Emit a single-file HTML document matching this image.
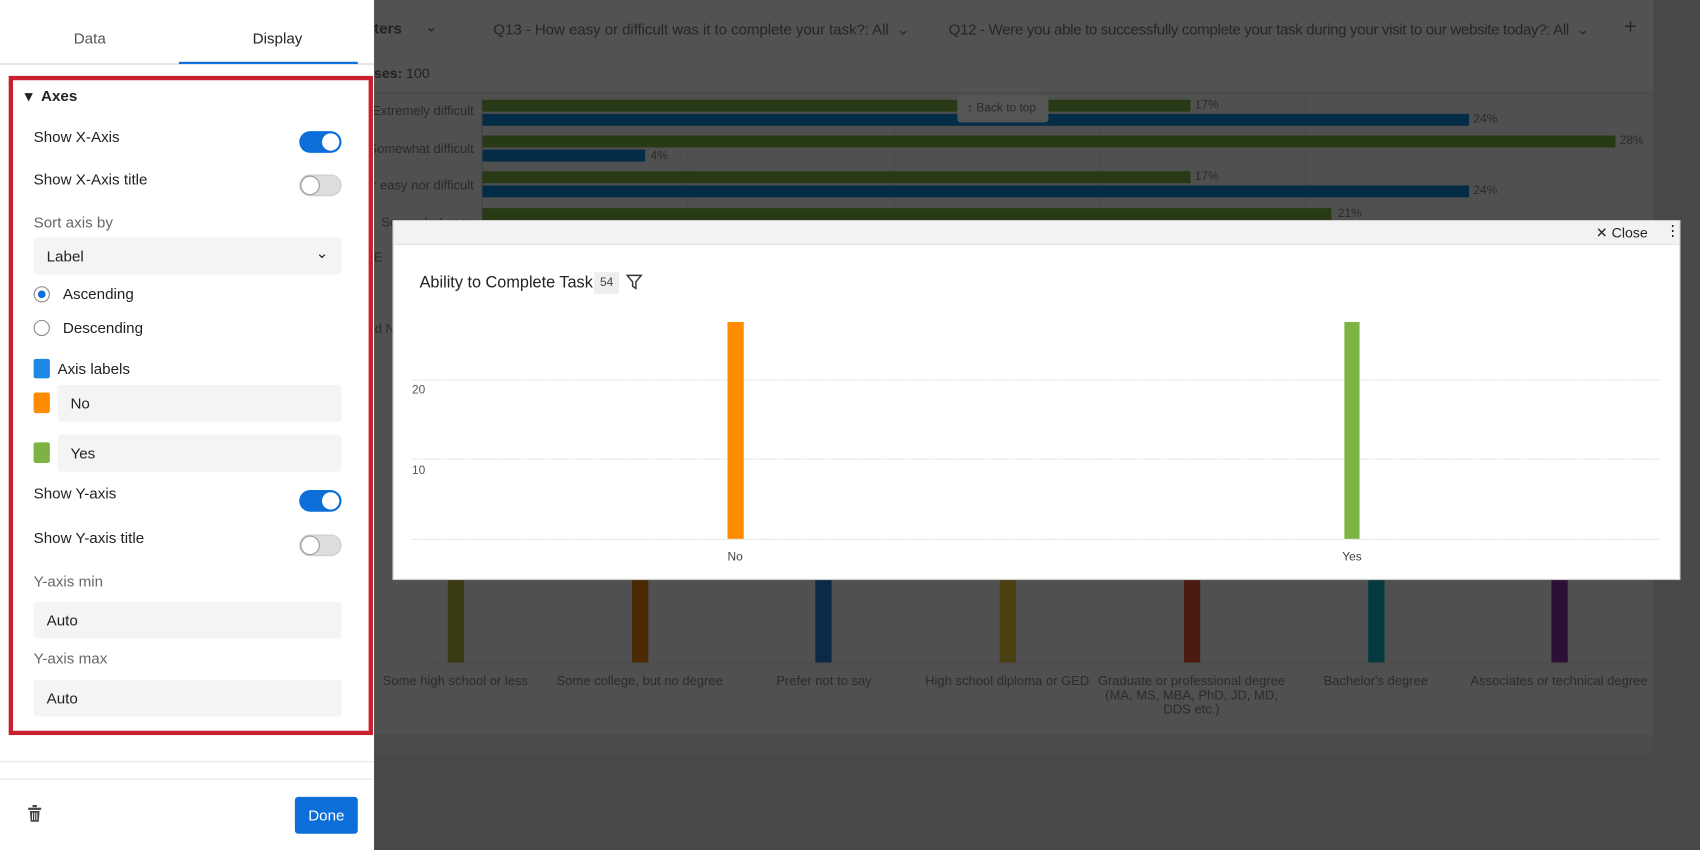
<!DOCTYPE html>
<html><head><meta charset="utf-8"><style>
*{box-sizing:border-box;margin:0;padding:0}
html,body{width:1700px;height:850px;overflow:hidden;background:#484848;font-family:"Liberation Sans",sans-serif}
#w{position:absolute;left:0;top:0;width:1568px;height:784px;transform:scale(1.08418);transform-origin:0 0;background:#484848}
.a{position:absolute}
.t{position:absolute;white-space:nowrap}
.dk{color:#2a2a2a;font-size:12px}
.tg{position:absolute;left:276px;width:39px;height:20px;border-radius:10px}
.tg.on{background:#0b6ed9}
.tg.on::after{content:"";position:absolute;right:2px;top:2px;width:16px;height:16px;border-radius:50%;background:#fff}
.tg.off{background:#ddd;border:1px solid #ccc}
.tg.off::after{content:"";position:absolute;left:0;top:0;width:18px;height:18px;border-radius:50%;background:#fff;border:1px solid #999;box-sizing:border-box}
.lbl{position:absolute;left:31px;font-size:14px;color:#222}
.inp{position:absolute;left:31px;width:284px;height:34px;background:#f4f4f4;border-radius:3px;font-size:14px;color:#222;padding:9px 12px}
.bar{position:absolute;height:11px}
.pct{position:absolute;font-size:11px;color:#2a2a2a}
.vb{position:absolute;width:15px;top:535px;height:76px}
.xl{position:absolute;top:622px;font-size:12px;color:#2b2b2b;text-align:center;width:200px;line-height:13px}
</style></head><body><div id="w">
<div class="a" style="left:345px;top:0;width:1180px;height:678px;background:#505050"></div>
<div class="a" style="left:345px;top:678px;width:1180px;height:17px;background:#4b4b4b"></div>
<div class="a" style="left:345px;top:0;width:1180px;height:85px;background:#525252"></div>
<div class="t" style="left:345px;top:18px;font-size:14px;font-weight:bold;color:#222">ters</div>
<div class="t" style="left:392px;top:16px;font-size:14px;color:#222">⌄</div>
<div class="t" style="left:455px;top:19px;font-size:14px;color:#262626;letter-spacing:-0.1px">Q13 - How easy or difficult was it to complete your task?: All&nbsp;&nbsp;⌄</div>
<div class="t" style="left:875px;top:19px;font-size:14px;color:#262626;letter-spacing:-0.35px">Q12 - Were you able to successfully complete your task during your visit to our website today?: All&nbsp;&nbsp;⌄</div>
<div class="t" style="left:1498px;top:14px;font-size:20px;color:#262626">+</div>
<div class="t" style="left:345px;top:60px;font-size:13px;font-weight:bold;color:#222">ses: <span style="font-weight:normal">100</span></div>
<div class="a" style="left:345px;top:85px;width:1180px;height:1px;background:#484848"></div>
<div class="a" style="left:634px;top:86px;height:120px;border-left:1px dotted #444"></div>
<div class="a" style="left:824px;top:86px;height:120px;border-left:1px dotted #444"></div>
<div class="a" style="left:1014px;top:86px;height:120px;border-left:1px dotted #444"></div>
<div class="a" style="left:1204px;top:86px;height:120px;border-left:1px dotted #444"></div>
<div class="a" style="left:444px;top:86px;height:120px;border-left:1px solid #444"></div>
<div class="t dk" style="right:1131px;top:95px">Extremely difficult</div>
<div class="t dk" style="right:1131px;top:130px">Somewhat difficult</div>
<div class="t dk" style="right:1131px;top:164px">r easy nor difficult</div>
<div class="t dk" style="right:1131px;top:198px">Somewhat easy</div>
<div class="bar" style="left:445px;top:92px;width:653px;background:#283a15"></div><div class="pct" style="left:1102px;top:91px">17%</div>
<div class="bar" style="left:445px;top:105px;width:910px;background:#032c47"></div><div class="pct" style="left:1359px;top:104px">24%</div>
<div class="bar" style="left:445px;top:125px;width:1045px;background:#283a15"></div><div class="pct" style="left:1494px;top:124px">28%</div>
<div class="bar" style="left:445px;top:138px;width:150px;background:#032c47"></div><div class="pct" style="left:600px;top:138px">4%</div>
<div class="bar" style="left:445px;top:158px;width:653px;background:#283a15"></div><div class="pct" style="left:1102px;top:157px">17%</div>
<div class="bar" style="left:445px;top:171px;width:910px;background:#032c47"></div><div class="pct" style="left:1359px;top:170px">24%</div>
<div class="bar" style="left:445px;top:192px;width:783px;background:#283a15"></div><div class="pct" style="left:1234px;top:191px">21%</div>
<div class="a" style="left:883px;top:88px;width:84px;height:25px;background:#555;border-radius:3px;font-size:11px;color:#2a2a2a;padding:6px 0 0 9px">↑ Back to top</div>
<div class="t" style="left:345px;top:230px;font-size:12px;color:#2a2a2a">E</div>
<div class="t" style="left:343px;top:296px;font-size:12px;color:#2a2a2a">id N</div>
<div class="a" style="left:400px;top:516px;width:1120px;border-top:1px dotted #474747"></div>
<div class="a" style="left:400px;top:611px;width:1120px;border-top:1px dotted #474747"></div>
<div class="vb" style="left:413px;background:#3a3a12"></div>
<div class="vb" style="left:583px;background:#4a2a02"></div>
<div class="vb" style="left:752px;background:#0c2a48"></div>
<div class="vb" style="left:922px;background:#4a4012"></div>
<div class="vb" style="left:1092px;background:#4a1a10"></div>
<div class="vb" style="left:1262px;background:#053a40"></div>
<div class="vb" style="left:1431px;background:#2e0f36"></div>
<div class="xl" style="left:320px">Some high school or less</div>
<div class="xl" style="left:490px">Some college, but no degree</div>
<div class="xl" style="left:660px">Prefer not to say</div>
<div class="xl" style="left:829px">High school diploma or GED</div>
<div class="xl" style="left:999px">Graduate or professional degree<br>(MA, MS, MBA, PhD, JD, MD,<br>DDS etc.)</div>
<div class="xl" style="left:1169px">Bachelor's degree</div>
<div class="xl" style="left:1338px">Associates or technical degree</div>
<div class="a" style="left:362px;top:203px;width:1188px;height:332px;background:#fff;border:1px solid #ccc"></div>
<div class="a" style="left:363px;top:204px;width:1186px;height:22px;background:#f2f2f5;border-bottom:1px solid #e2e2e2"></div>
<div class="t" style="left:1472px;top:207px;font-size:13px;color:#222">✕&nbsp;Close</div>
<div class="t" style="left:1536px;top:204px;font-size:14px;color:#222">⋮</div>
<div class="t" style="left:387px;top:252px;font-size:15px;color:#222">Ability to Complete Task</div>
<div class="a" style="left:548px;top:251px;width:23px;height:20px;background:#eee;font-size:11px;color:#444;text-align:center;line-height:20px">54</div>
<svg class="a" style="left:577px;top:252px" width="16" height="16"><path d="M1.5 2h13l-5 6v6l-3-2v-4z" fill="none" stroke="#333" stroke-width="1.3"/></svg>
<div class="a" style="left:380px;top:350px;width:1150px;border-top:1px dotted #d4d4d4"></div>
<div class="a" style="left:380px;top:423px;width:1150px;border-top:1px dotted #d4d4d4"></div>
<div class="a" style="left:380px;top:497px;width:1150px;border-top:1px dotted #d4d4d4"></div>
<div class="t" style="left:380px;top:354px;font-size:11px;color:#555">20</div>
<div class="t" style="left:380px;top:428px;font-size:11px;color:#555">10</div>
<div class="a" style="left:671px;top:297px;width:15px;height:200px;background:#ff8c00"></div>
<div class="a" style="left:1240px;top:297px;width:14px;height:200px;background:#7cb342"></div>
<div class="t" style="left:671px;top:508px;font-size:11px;color:#444">No</div>
<div class="t" style="left:1238px;top:508px;font-size:11px;color:#444">Yes</div>
<div class="a" style="left:0;top:0;width:345px;height:784px;background:#fff"></div>
<div class="t" style="left:68px;top:27px;font-size:14px;color:#555">Data</div>
<div class="t" style="left:233px;top:27px;font-size:14px;color:#222">Display</div>
<div class="a" style="left:0;top:58px;width:345px;height:2px;background:#e6e6e6"></div>
<div class="a" style="left:165px;top:57px;width:165px;height:2px;background:#0b6ed9"></div>
<div class="a" style="left:8px;top:70px;width:336px;height:608px;border:4px solid #c8202f"></div>
<div class="t" style="left:23px;top:80px;font-size:14px;font-weight:bold;color:#222">▾&nbsp;&nbsp;Axes</div>
<div class="lbl" style="top:118px">Show X-Axis</div><div class="tg on" style="top:121px"></div>
<div class="lbl" style="top:157px">Show X-Axis title</div><div class="tg off" style="top:161px"></div>
<div class="lbl" style="top:197px;color:#666">Sort axis by</div>
<div class="inp" style="top:219px">Label<span style="position:absolute;right:12px;top:6px">⌄</span></div>
<div class="a" style="left:31px;top:264px;width:15px;height:15px;border-radius:50%;border:1px solid #888;background:#fff"><div style="position:absolute;left:3px;top:3px;width:7px;height:7px;border-radius:50%;background:#0b6ed9"></div></div>
<div class="lbl" style="left:58px;top:263px">Ascending</div>
<div class="a" style="left:31px;top:295px;width:15px;height:15px;border-radius:50%;border:1px solid #888"></div>
<div class="lbl" style="left:58px;top:294px">Descending</div>
<div class="a" style="left:31px;top:331px;width:15px;height:18px;background:#1e88e5;border-radius:2px"></div>
<div class="lbl" style="left:53px;top:332px">Axis labels</div>
<div class="a" style="left:31px;top:362px;width:15px;height:19px;background:#ff8c00;border-radius:2px"></div>
<div class="inp" style="left:53px;width:262px;top:355px">No</div>
<div class="a" style="left:31px;top:408px;width:15px;height:19px;background:#7cb342;border-radius:2px"></div>
<div class="inp" style="left:53px;width:262px;top:401px">Yes</div>
<div class="lbl" style="top:447px">Show Y-axis</div><div class="tg on" style="top:452px"></div>
<div class="lbl" style="top:488px">Show Y-axis title</div><div class="tg off" style="top:493px"></div>
<div class="lbl" style="top:528px;color:#666">Y-axis min</div>
<div class="inp" style="top:555px">Auto</div>
<div class="lbl" style="top:599px;color:#666">Y-axis max</div>
<div class="inp" style="top:627px">Auto</div>
<div class="a" style="left:0;top:702px;width:345px;height:1px;background:#e6e6e6"></div>
<div class="a" style="left:0;top:718px;width:345px;height:1px;background:#e6e6e6"></div>
<svg class="a" style="left:25px;top:742px" width="14" height="17"><rect x="1" y="3" width="12" height="2" fill="#444"/><rect x="5" y="0.5" width="4" height="2" fill="#444"/><path d="M2.5 6h9l-0.8 10h-7.4z" fill="#444"/><path d="M5 7.5v7M7 7.5v7M9 7.5v7" stroke="#fff" stroke-width="0.8"/></svg>
<div class="a" style="left:272px;top:735px;width:58px;height:34px;background:#0b6ed9;border-radius:3px;color:#fff;font-size:14px;text-align:center;line-height:34px">Done</div>
</div></body></html>
